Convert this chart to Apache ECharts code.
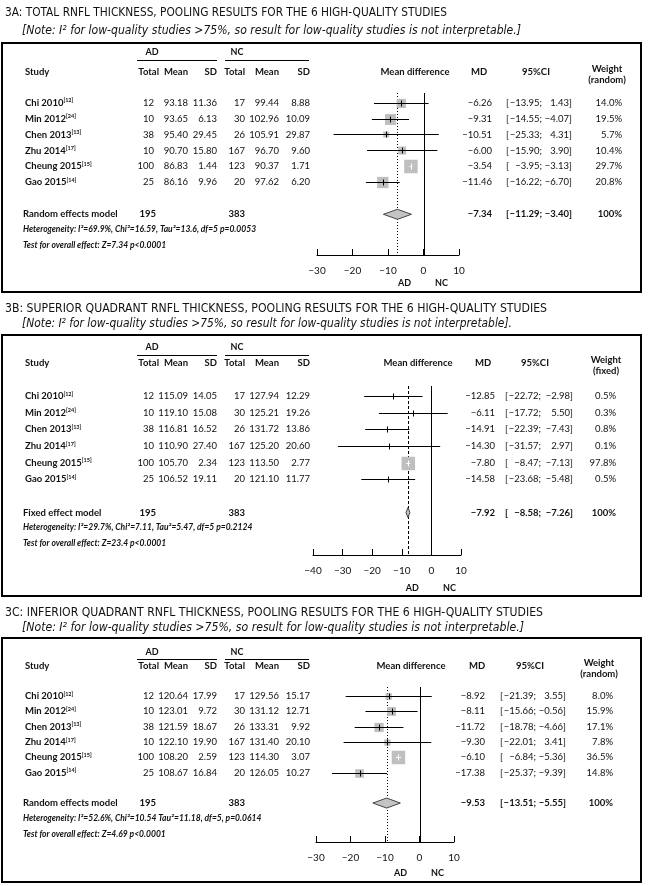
<!DOCTYPE html>
<html>
<head>
<meta charset="utf-8">
<title>RNFL thickness forest plots</title>
<script src="https://cdn.jsdelivr.net/npm/echarts@6/dist/echarts.min.js"></script>
<style>
  html, body { margin: 0; padding: 0; background: #fff; }
  #forest { width: 648px; height: 886px; }
</style>
</head>
<body>
<div id="forest"></div>
<script>
// ---- shared study info ----
var studyNames = ['Chi 2010', 'Min 2012', 'Chen 2013', 'Zhu 2014', 'Cheung 2015', 'Gao 2015'];
var studyRefs = ['[12]', '[24]', '[13]', '[17]', '[15]', '[14]'];
var adTotal = [12, 10, 38, 10, 100, 25];
var ncTotal = [17, 30, 26, 167, 123, 20];
var pooledTotals = [195, 383];

// ---- 3A total RNFL ----
var totalAdMean = [93.18, 93.65, 95.40, 90.70, 86.83, 86.16];
var totalAdSD = [11.36, 6.13, 29.45, 15.80, 1.44, 9.96];
var totalNcMean = [99.44, 102.96, 105.91, 96.70, 90.37, 97.62];
var totalNcSD = [8.88, 10.09, 29.87, 9.60, 1.71, 6.20];
var totalMD = [-6.26, -9.31, -10.51, -6.00, -3.54, -11.46];
var totalLower = [-13.95, -14.55, -25.33, -15.90, -3.95, -16.22];
var totalUpper = [1.43, -4.07, 4.31, 3.90, -3.13, -6.70];
var totalWeight = [14.0, 19.5, 5.7, 10.4, 29.7, 20.8];
var totalPooled = [-7.34, -11.29, -3.40];
var totalTicks = [-30, -20, -10, 0, 10];

// ---- 3B superior quadrant ----
var supAdMean = [115.09, 119.10, 116.81, 110.90, 105.70, 106.52];
var supAdSD = [14.05, 15.08, 16.52, 27.40, 2.34, 19.11];
var supNcMean = [127.94, 125.21, 131.72, 125.20, 113.50, 121.10];
var supNcSD = [12.29, 19.26, 13.86, 20.60, 2.77, 11.77];
var supMD = [-12.85, -6.11, -14.91, -14.30, -7.80, -14.58];
var supLower = [-22.72, -17.72, -22.39, -31.57, -8.47, -23.68];
var supUpper = [-2.98, 5.50, -7.43, 2.97, -7.13, -5.48];
var supWeight = [0.5, 0.3, 0.8, 0.1, 97.8, 0.5];
var supPooled = [-7.92, -8.58, -7.26];
var supTicks = [-40, -30, -20, -10, 0, 10];

// ---- 3C inferior quadrant ----
var infAdMean = [120.64, 123.01, 121.59, 122.10, 108.20, 108.67];
var infAdSD = [17.99, 9.72, 18.67, 19.90, 2.59, 16.84];
var infNcMean = [129.56, 131.12, 133.31, 131.40, 114.30, 126.05];
var infNcSD = [15.17, 12.71, 9.92, 20.10, 3.07, 10.27];
var infMD = [-8.92, -8.11, -11.72, -9.30, -6.10, -17.38];
var infLower = [-21.39, -15.66, -18.78, -22.01, -6.84, -25.37];
var infUpper = [3.55, -0.56, -4.66, 3.41, -5.36, -9.39];
var infWeight = [8.0, 15.9, 17.1, 7.8, 36.5, 14.8];
var infPooled = [-9.53, -13.51, -5.55];
var infTicks = [-30, -20, -10, 0, 10];

var panels = [
    {
        title: '3A: TOTAL RNFL THICKNESS, POOLING RESULTS FOR THE 6 HIGH-QUALITY STUDIES',
        note: '[Note: I\u00b2 for low-quality studies >75%, so result for low-quality studies is not interpretable.]',
        model: 'Random effects model', weightHead: '(random)',
        hetero: 'Heterogeneity: I\u00b2=69.9%, Chi\u00b2=16.59, Tau\u00b2=13.6, df=5 p=0.0053',
        test: 'Test for overall effect: Z=7.34 p<0.0001',
        adMean: totalAdMean, adSD: totalAdSD, ncMean: totalNcMean, ncSD: totalNcSD,
        md: totalMD, lower: totalLower, upper: totalUpper, weight: totalWeight,
        pooled: totalPooled, ticks: totalTicks
    },
    {
        title: '3B: SUPERIOR QUADRANT RNFL THICKNESS, POOLING RESULTS FOR THE 6 HIGH-QUALITY STUDIES',
        note: '[Note: I\u00b2 for low-quality studies >75%, so result for low-quality studies is not interpretable].',
        model: 'Fixed effect model', weightHead: '(fixed)',
        hetero: 'Heterogeneity: I\u00b2=29.7%, Chi\u00b2=7.11, Tau\u00b2=5.47, df=5 p=0.2124',
        test: 'Test for overall effect: Z=23.4 p<0.0001',
        adMean: supAdMean, adSD: supAdSD, ncMean: supNcMean, ncSD: supNcSD,
        md: supMD, lower: supLower, upper: supUpper, weight: supWeight,
        pooled: supPooled, ticks: supTicks
    },
    {
        title: '3C: INFERIOR QUADRANT RNFL THICKNESS, POOLING RESULTS FOR THE 6 HIGH-QUALITY STUDIES',
        note: '[Note: I\u00b2 for low-quality studies >75%, so result for low-quality studies is not interpretable.]',
        model: 'Random effects model', weightHead: '(random)',
        hetero: 'Heterogeneity: I\u00b2=52.6%, Chi\u00b2=10.54 Tau\u00b2=11.18, df=5, p=0.0614',
        test: 'Test for overall effect: Z=4.69 p<0.0001',
        adMean: infAdMean, adSD: infAdSD, ncMean: infNcMean, ncSD: infNcSD,
        md: infMD, lower: infLower, upper: infUpper, weight: infWeight,
        pooled: infPooled, ticks: infTicks
    }
];

// ---- layout (pixels) ----
var rowMin = -0.6, rowMax = 9.55, pooledRow = 7;
var panelLayout = [
    { titleY: 13, noteY: 31, titleW: 442, noteW: 499, boxTop: 43, boxBottom: 292,
      gridTop: 93, gridBottom: 255, gridLeft: 317, gridRight: 459, groupY: 52, lineY: 60, headY: 72, adncY: 283,
      dash: [1, 2], meanDiffX: 415, mdHeadX: 479, mdX: 492, ciL: 506, ciMid: 542, ciR: 572, ciHeadX: 536, wtX: 622, wtHeadX: 607 },
    { titleY: 309, noteY: 324, titleW: 542, noteW: 490, boxTop: 335, boxBottom: 596,
      gridTop: 386, gridBottom: 555, gridLeft: 313, gridRight: 461, groupY: 347, lineY: 355, headY: 363, adncY: 588,
      dash: [3, 2], meanDiffX: 418, mdHeadX: 483, mdX: 495, ciL: 505, ciMid: 541, ciR: 573, ciHeadX: 535, wtX: 616, wtHeadX: 606 },
    { titleY: 613, noteY: 628, titleW: 538, noteW: 502, boxTop: 638, boxBottom: 882,
      gridTop: 687, gridBottom: 842, gridLeft: 316, gridRight: 454, groupY: 652, lineY: 659, headY: 666, adncY: 873,
      dash: [1, 2], meanDiffX: 411, mdHeadX: 477, mdX: 485, ciL: 500, ciMid: 536, ciR: 566, ciHeadX: 530, wtX: 613, wtHeadX: 599 }
];
var cols = { study: 25, adTotal: 154, adTotalHead: 159, adMean: 188, adSD: 217, ncTotal: 245, ncMean: 279, ncSD: 310, adLabel: 152, ncLabel: 237, lineAd: [137, 217], lineNc: [225, 309] };

var tableFamily = "Lato, 'Open Sans', sans-serif";
var titleFamily = "'Liberation Sans Narrow', 'DejaVu Sans Condensed', 'Liberation Sans', sans-serif";
var fontVal = '9.5px ' + tableFamily;
var fontBold = 'bold 9.5px ' + tableFamily;
var fontNote = 'italic bold 8.5px ' + tableFamily;

function signed(v, d) {
    return v.toFixed(d).replace('-', '\u2212');
}

/**
 * Study rows: grey box (area ~ weight), CI whisker and a tick at the MD
 */
function renderStudy(params, api) {
    var row = api.value(0);
    var mid = api.coord([api.value(1), row]);
    var lo = api.coord([api.value(2), row]);
    var hi = api.coord([api.value(3), row]);
    var size = 13.5 * Math.sqrt(api.value(4) / api.value(5));
    var half = size / 2;
    var y = Math.round(mid[1]) + 0.5;
    var tickX = Math.round(mid[0]) + 0.5;
    var inBox = lo[0] >= mid[0] - half && hi[0] <= mid[0] + half;
    var ink = inBox ? '#fff' : '#000';
    return {
        type: 'group',
        children: [
            { type: 'rect', shape: { x: mid[0] - half, y: y - half, width: size, height: size }, style: { fill: '#bfbfbf' } },
            { type: 'line', shape: { x1: lo[0], y1: y, x2: hi[0], y2: y }, style: { stroke: ink, lineWidth: 1 } },
            { type: 'line', shape: { x1: tickX, y1: y - 3, x2: tickX, y2: y + 3 }, style: { stroke: ink, lineWidth: 1 } }
        ]
    };
}

function renderDiamond(params, api) {
    var row = api.value(0);
    var mid = api.coord([api.value(1), row]);
    var lo = api.coord([api.value(2), row]);
    var hi = api.coord([api.value(3), row]);
    return {
        type: 'polygon',
        shape: { points: [[lo[0], mid[1]], [mid[0], mid[1] - 5], [hi[0], mid[1]], [mid[0], mid[1] + 5]] },
        style: { fill: '#c4c4c4', stroke: '#444', lineWidth: 1 }
    };
}

function makeRefRender(dash) {
    return function (params, api) {
        var v = api.value(0);
        var top = api.coord([v, rowMin]);
        var bot = api.coord([v, rowMax]);
        var x = Math.round(top[0]) + 0.5;
        return {
            type: 'line',
            shape: { x1: x, y1: top[1], x2: x, y2: bot[1] },
            style: { stroke: '#000', lineWidth: 1, lineDash: api.value(1) ? dash : null }
        };
    };
}

var dom = document.getElementById('forest');
var forestChart = echarts.init(dom);

var grids = [], xAxes = [], yAxes = [], series = [];
panels.forEach(function (p, i) {
    var lay = panelLayout[i];
    grids.push({ left: lay.gridLeft, top: lay.gridTop, width: lay.gridRight - lay.gridLeft, height: lay.gridBottom - lay.gridTop });
    xAxes.push({
        type: 'value', gridIndex: i, position: 'bottom',
        min: p.ticks[0], max: p.ticks[p.ticks.length - 1], interval: 10,
        axisLine: { onZero: false, lineStyle: { color: '#000', width: 1 } },
        axisTick: { inside: true, length: 6, lineStyle: { color: '#000' } },
        axisLabel: {
            color: '#111', fontSize: 10, fontFamily: tableFamily, margin: 11,
            formatter: function (v) { return String(v).replace('-', '\u2212'); }
        },
        splitLine: { show: false }
    });
    yAxes.push({ type: 'value', gridIndex: i, min: rowMin, max: rowMax, inverse: true, show: false });

    var wMax = Math.max.apply(null, p.weight);
    var studyData = p.md.map(function (m, k) {
        return [k, m, p.lower[k], p.upper[k], p.weight[k], wMax];
    });
    series.push({
        type: 'custom', xAxisIndex: i, yAxisIndex: i, silent: true, z: 2,
        renderItem: makeRefRender(lay.dash), encode: { x: 0, y: 2 },
        data: [[0, 0, 0], [p.pooled[0], 1, 0]]
    });
    series.push({
        type: 'custom', xAxisIndex: i, yAxisIndex: i, silent: true, z: 3,
        renderItem: renderStudy, encode: { x: 1, y: 0 }, data: studyData
    });
    series.push({
        type: 'custom', xAxisIndex: i, yAxisIndex: i, silent: true, z: 4,
        renderItem: renderDiamond, encode: { x: 1, y: 0 },
        data: [[pooledRow, p.pooled[0], p.pooled[1], p.pooled[2]]]
    });
});

var option = {
    backgroundColor: '#fff',
    animation: false,
    grid: grids,
    xAxis: xAxes,
    yAxis: yAxes,
    series: series
};
forestChart.setOption(option);

// ---- table text, titles and frames ----
var measureCtx = document.createElement('canvas').getContext('2d');
function fitScale(text, font, width) {
    measureCtx.font = font;
    return width / measureCtx.measureText(text).width;
}

var graphics = [];
function addText(x, y, text, font, align, extra) {
    var el = {
        type: 'text', x: x, y: y, silent: true, z: 10,
        style: {
            text: text, font: font, fill: '#111',
            align: align || 'left', verticalAlign: 'middle',
            textAlign: align || 'left', textVerticalAlign: 'middle'
        }
    };
    if (extra) {
        for (var key in extra) { el[key] = extra[key]; }
    }
    graphics.push(el);
}
function addLine(x1, y1, x2, y2, width) {
    graphics.push({
        type: 'line', silent: true, z: 10,
        shape: { x1: x1, y1: y1, x2: x2, y2: y2 },
        style: { stroke: '#000', lineWidth: width || 1 }
    });
}

panels.forEach(function (p, i) {
    var lay = panelLayout[i];
    var rowY = function (r) { return forestChart.convertToPixel({ gridIndex: i }, [0, r])[1]; };

    var titleFont = '13px ' + titleFamily;
    var noteFont = 'italic 13px ' + titleFamily;
    addText(5, lay.titleY, p.title, titleFont, 'left', { scaleX: fitScale(p.title, titleFont, lay.titleW) });
    addText(22, lay.noteY, p.note, noteFont, 'left', { scaleX: fitScale(p.note, noteFont, lay.noteW) });

    graphics.push({
        type: 'rect', silent: true, z: 10,
        shape: { x: 2, y: lay.boxTop, width: 639, height: lay.boxBottom - lay.boxTop },
        style: { fill: 'none', stroke: '#000', lineWidth: 2 }
    });

    // group headers
    addText(cols.adLabel, lay.groupY, 'AD', 'bold 9px ' + tableFamily, 'center');
    addText(cols.ncLabel, lay.groupY, 'NC', 'bold 9px ' + tableFamily, 'center');
    addLine(cols.lineAd[0], lay.lineY + 0.5, cols.lineAd[1], lay.lineY + 0.5);
    addLine(cols.lineNc[0], lay.lineY + 0.5, cols.lineNc[1], lay.lineY + 0.5);

    // column headers
    var hy = lay.headY;
    addText(cols.study, hy, 'Study', fontBold);
    addText(cols.adTotalHead, hy, 'Total', fontBold, 'right');
    addText(cols.adMean, hy, 'Mean', fontBold, 'right');
    addText(cols.adSD, hy, 'SD', fontBold, 'right');
    addText(cols.ncTotal, hy, 'Total', fontBold, 'right');
    addText(cols.ncMean, hy, 'Mean', fontBold, 'right');
    addText(cols.ncSD, hy, 'SD', fontBold, 'right');
    addText(lay.meanDiffX, hy, 'Mean difference', fontBold, 'center');
    addText(lay.mdHeadX, hy, 'MD', fontBold, 'center');
    addText(lay.ciHeadX, hy, '95%CI', fontBold, 'center');
    addText(lay.wtHeadX, hy - 3, 'Weight', fontBold, 'center');
    addText(lay.wtHeadX, hy + 8, p.weightHead, fontBold, 'center');

    // study rows
    studyNames.forEach(function (name, k) {
        var y = rowY(k);
        graphics.push({
            type: 'text', x: cols.study, y: y, silent: true, z: 10,
            style: {
                text: '{n|' + name + '}{s|' + studyRefs[k] + '}',
                align: 'left', verticalAlign: 'middle', textAlign: 'left', textVerticalAlign: 'middle',
                rich: {
                    n: { fontSize: 9.5, fontFamily: tableFamily, fontWeight: 'bold', fill: '#111', color: '#111' },
                    s: { fontSize: 5.5, fontFamily: tableFamily, fontWeight: 'bold', fill: '#111', color: '#111', verticalAlign: 'top' }
                }
            }
        });
        addText(cols.adTotal, y, String(adTotal[k]), fontVal, 'right');
        addText(cols.adMean, y, p.adMean[k].toFixed(2), fontVal, 'right');
        addText(cols.adSD, y, p.adSD[k].toFixed(2), fontVal, 'right');
        addText(cols.ncTotal, y, String(ncTotal[k]), fontVal, 'right');
        addText(cols.ncMean, y, p.ncMean[k].toFixed(2), fontVal, 'right');
        addText(cols.ncSD, y, p.ncSD[k].toFixed(2), fontVal, 'right');
        addText(lay.mdX, y, signed(p.md[k], 2), fontVal, 'right');
        addText(lay.ciL, y, '[', fontVal, 'left');
        addText(lay.ciMid, y, signed(p.lower[k], 2) + ';', fontVal, 'right');
        addText(lay.ciR, y, signed(p.upper[k], 2) + ']', fontVal, 'right');
        addText(lay.wtX, y, p.weight[k].toFixed(1) + '%', fontVal, 'right');
    });

    // pooled row
    var py = rowY(pooledRow);
    addText(cols.study - 2, py, p.model, fontBold);
    addText(cols.adTotal + 2, py, String(pooledTotals[0]), fontBold, 'right');
    addText(cols.ncTotal, py, String(pooledTotals[1]), fontBold, 'right');
    addText(lay.mdX, py, signed(p.pooled[0], 2), fontBold, 'right');
    addText(lay.ciL, py, '[', fontBold, 'left');
    addText(lay.ciMid, py, signed(p.pooled[1], 2) + ';', fontBold, 'right');
    addText(lay.ciR, py, signed(p.pooled[2], 2) + ']', fontBold, 'right');
    addText(lay.wtX, py, '100%', fontBold, 'right');
    addText(cols.study - 2, py + 15, p.hetero, fontNote);
    addText(cols.study - 2, py + 31, p.test, fontNote);

    // AD / NC under the axis
    var zeroX = forestChart.convertToPixel({ gridIndex: i }, [0, 0])[0];
    addText(zeroX - 19, lay.adncY, 'AD', 'bold 9px ' + tableFamily, 'center');
    addText(zeroX + 18, lay.adncY, 'NC', 'bold 9px ' + tableFamily, 'center');
});

forestChart.setOption({ graphic: { elements: graphics } });

window.addEventListener('resize', function () {
    setTimeout(function () {
        forestChart.resize();
    });
});
</script>
</body>
</html>
